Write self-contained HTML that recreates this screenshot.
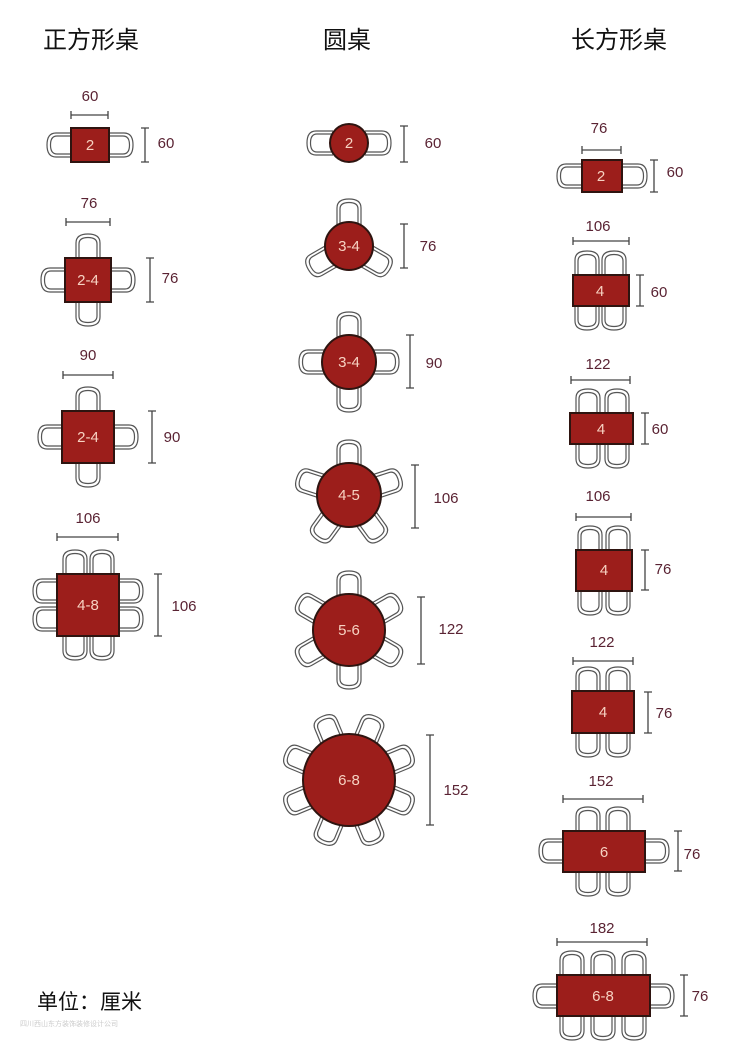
<!DOCTYPE html>
<html><head><meta charset="utf-8"><style>
html,body{margin:0;padding:0;background:#fff;}
svg{display:block;}
.h{font-size:24px;fill:#111;font-family:"Liberation Sans","Noto Sans CJK SC",sans-serif;}
.d{font-size:15px;fill:#5a2333;font-family:"Liberation Sans","Noto Sans CJK SC",sans-serif;text-anchor:middle;}
.n{font-size:15px;fill:#f7d2c2;font-family:"Liberation Sans",sans-serif;text-anchor:middle;}
.tb{fill:#9c1e1b;stroke:#2e1410;stroke-width:2;}
.dl{stroke:#444;stroke-width:1.3;fill:none;}
</style></head><body>
<svg width="752" height="1049" viewBox="0 0 752 1049" xmlns="http://www.w3.org/2000/svg">
<defs>
<g id="c">
<path d="M-12 12 L-12 -5 Q-12 -14 0 -14 Q12 -14 12 -5 L12 12 L9 12 L9 -4 Q9 -10.5 0 -10.5 Q-9 -10.5 -9 -4 L-9 12 Z" fill="#fff" stroke="none"/>
<path d="M-12 12 L-12 -5 Q-12 -14 0 -14 Q12 -14 12 -5 L12 12" fill="none" stroke="#555" stroke-width="1.2"/>
<path d="M-9 12 L-9 -4 Q-9 -10.5 0 -10.5 Q9 -10.5 9 -4 L9 12" fill="none" stroke="#555" stroke-width="1.2"/>
</g>
</defs>

<text class="h" x="43" y="48">正方形桌</text>
<text class="h" x="323" y="48">圆桌</text>
<text class="h" x="571" y="48">长方形桌</text>

<!-- SQUARE -->
<use href="#c" transform="translate(61,145) rotate(-90)"/>
<use href="#c" transform="translate(119,145) rotate(90)"/>
<rect class="tb" x="71" y="128" width="38" height="34"/>
<text class="n" x="90" y="150">2</text>
<text class="d" x="90" y="101">60</text>
<path class="dl" d="M71 115H108M71 111V119M108 111V119"/>
<path class="dl" d="M145 128V162M141 128H149M141 162H149"/>
<text class="d" x="166" y="148">60</text>

<use href="#c" transform="translate(88,248)"/>
<use href="#c" transform="translate(88,312) rotate(180)"/>
<use href="#c" transform="translate(55,280) rotate(-90)"/>
<use href="#c" transform="translate(121,280) rotate(90)"/>
<rect class="tb" x="65" y="258" width="46" height="44"/>
<text class="n" x="88" y="285">2-4</text>
<text class="d" x="89" y="208">76</text>
<path class="dl" d="M66 222H110M66 218V226M110 218V226"/>
<path class="dl" d="M150 258V302M146 258H154M146 302H154"/>
<text class="d" x="170" y="283">76</text>

<use href="#c" transform="translate(88,401)"/>
<use href="#c" transform="translate(88,473) rotate(180)"/>
<use href="#c" transform="translate(52,437) rotate(-90)"/>
<use href="#c" transform="translate(124,437) rotate(90)"/>
<rect class="tb" x="62" y="411" width="52" height="52"/>
<text class="n" x="88" y="442">2-4</text>
<text class="d" x="88" y="360">90</text>
<path class="dl" d="M63 375H113M63 371V379M113 371V379"/>
<path class="dl" d="M152 411V463M148 411H156M148 463H156"/>
<text class="d" x="172" y="442">90</text>

<use href="#c" transform="translate(75,564)"/>
<use href="#c" transform="translate(102,564)"/>
<use href="#c" transform="translate(75,646) rotate(180)"/>
<use href="#c" transform="translate(102,646) rotate(180)"/>
<use href="#c" transform="translate(47,591) rotate(-90)"/>
<use href="#c" transform="translate(47,619) rotate(-90)"/>
<use href="#c" transform="translate(129,591) rotate(90)"/>
<use href="#c" transform="translate(129,619) rotate(90)"/>
<rect class="tb" x="57" y="574" width="62" height="62"/>
<text class="n" x="88" y="610">4-8</text>
<text class="d" x="88" y="523">106</text>
<path class="dl" d="M57 537H118M57 533V541M118 533V541"/>
<path class="dl" d="M158 574V636M154 574H162M154 636H162"/>
<text class="d" x="184" y="611">106</text>

<!-- ROUND -->
<use href="#c" transform="translate(349,143) rotate(-90) translate(0,-28)"/>
<use href="#c" transform="translate(349,143) rotate(90) translate(0,-28)"/>
<circle class="tb" cx="349" cy="143" r="19"/>
<text class="n" x="349" y="148">2</text>
<path class="dl" d="M404 126V162M400 126H408M400 162H408"/>
<text class="d" x="433" y="148">60</text>

<use href="#c" transform="translate(349,246) rotate(0) translate(0,-33)"/>
<use href="#c" transform="translate(349,246) rotate(120) translate(0,-33)"/>
<use href="#c" transform="translate(349,246) rotate(240) translate(0,-33)"/>
<circle class="tb" cx="349" cy="246" r="24"/>
<text class="n" x="349" y="251">3-4</text>
<path class="dl" d="M404 224V268M400 224H408M400 268H408"/>
<text class="d" x="428" y="251">76</text>

<use href="#c" transform="translate(349,362) rotate(0) translate(0,-36)"/>
<use href="#c" transform="translate(349,362) rotate(90) translate(0,-36)"/>
<use href="#c" transform="translate(349,362) rotate(180) translate(0,-36)"/>
<use href="#c" transform="translate(349,362) rotate(270) translate(0,-36)"/>
<circle class="tb" cx="349" cy="362" r="27"/>
<text class="n" x="349" y="367">3-4</text>
<path class="dl" d="M410 335V388M406 335H414M406 388H414"/>
<text class="d" x="434" y="368">90</text>

<use href="#c" transform="translate(349,495) rotate(0) translate(0,-41)"/>
<use href="#c" transform="translate(349,495) rotate(72) translate(0,-41)"/>
<use href="#c" transform="translate(349,495) rotate(144) translate(0,-41)"/>
<use href="#c" transform="translate(349,495) rotate(216) translate(0,-41)"/>
<use href="#c" transform="translate(349,495) rotate(288) translate(0,-41)"/>
<circle class="tb" cx="349" cy="495" r="32"/>
<text class="n" x="349" y="500">4-5</text>
<path class="dl" d="M415 465V528M411 465H419M411 528H419"/>
<text class="d" x="446" y="503">106</text>

<use href="#c" transform="translate(349,630) rotate(0) translate(0,-45)"/>
<use href="#c" transform="translate(349,630) rotate(60) translate(0,-45)"/>
<use href="#c" transform="translate(349,630) rotate(120) translate(0,-45)"/>
<use href="#c" transform="translate(349,630) rotate(180) translate(0,-45)"/>
<use href="#c" transform="translate(349,630) rotate(240) translate(0,-45)"/>
<use href="#c" transform="translate(349,630) rotate(300) translate(0,-45)"/>
<circle class="tb" cx="349" cy="630" r="36"/>
<text class="n" x="349" y="635">5-6</text>
<path class="dl" d="M421 597V664M417 597H425M417 664H425"/>
<text class="d" x="451" y="634">122</text>

<use href="#c" transform="translate(349,780) rotate(22.5) translate(0,-55)"/>
<use href="#c" transform="translate(349,780) rotate(67.5) translate(0,-55)"/>
<use href="#c" transform="translate(349,780) rotate(112.5) translate(0,-55)"/>
<use href="#c" transform="translate(349,780) rotate(157.5) translate(0,-55)"/>
<use href="#c" transform="translate(349,780) rotate(202.5) translate(0,-55)"/>
<use href="#c" transform="translate(349,780) rotate(247.5) translate(0,-55)"/>
<use href="#c" transform="translate(349,780) rotate(292.5) translate(0,-55)"/>
<use href="#c" transform="translate(349,780) rotate(337.5) translate(0,-55)"/>
<circle class="tb" cx="349" cy="780" r="46"/>
<text class="n" x="349" y="785">6-8</text>
<path class="dl" d="M430 735V825M426 735H434M426 825H434"/>
<text class="d" x="456" y="795">152</text>

<!-- RECT -->
<use href="#c" transform="translate(571,176) rotate(-90)"/>
<use href="#c" transform="translate(633,176) rotate(90)"/>
<rect class="tb" x="582" y="160" width="40" height="32"/>
<text class="n" x="601" y="181">2</text>
<text class="d" x="599" y="133">76</text>
<path class="dl" d="M582 150H621M582 146V154M621 146V154"/>
<path class="dl" d="M654 160V192M650 160H658M650 192H658"/>
<text class="d" x="675" y="177">60</text>

<use href="#c" transform="translate(587,265)"/>
<use href="#c" transform="translate(614,265)"/>
<use href="#c" transform="translate(587,316) rotate(180)"/>
<use href="#c" transform="translate(614,316) rotate(180)"/>
<rect class="tb" x="573" y="275" width="56" height="31"/>
<text class="n" x="600" y="296">4</text>
<text class="d" x="598" y="231">106</text>
<path class="dl" d="M573 241H629M573 237V245M629 237V245"/>
<path class="dl" d="M640 275V306M636 275H644M636 306H644"/>
<text class="d" x="659" y="297">60</text>

<use href="#c" transform="translate(588,403)"/>
<use href="#c" transform="translate(617,403)"/>
<use href="#c" transform="translate(588,454) rotate(180)"/>
<use href="#c" transform="translate(617,454) rotate(180)"/>
<rect class="tb" x="570" y="413" width="63" height="31"/>
<text class="n" x="601" y="434">4</text>
<text class="d" x="598" y="369">122</text>
<path class="dl" d="M571 380H630M571 376V384M630 376V384"/>
<path class="dl" d="M645 413V444M641 413H649M641 444H649"/>
<text class="d" x="660" y="434">60</text>

<use href="#c" transform="translate(590,540)"/>
<use href="#c" transform="translate(618,540)"/>
<use href="#c" transform="translate(590,601) rotate(180)"/>
<use href="#c" transform="translate(618,601) rotate(180)"/>
<rect class="tb" x="576" y="550" width="56" height="41"/>
<text class="n" x="604" y="575">4</text>
<text class="d" x="598" y="501">106</text>
<path class="dl" d="M576 517H631M576 513V521M631 513V521"/>
<path class="dl" d="M645 550V590M641 550H649M641 590H649"/>
<text class="d" x="663" y="574">76</text>

<use href="#c" transform="translate(588,681)"/>
<use href="#c" transform="translate(618,681)"/>
<use href="#c" transform="translate(588,743) rotate(180)"/>
<use href="#c" transform="translate(618,743) rotate(180)"/>
<rect class="tb" x="572" y="691" width="62" height="42"/>
<text class="n" x="603" y="717">4</text>
<text class="d" x="602" y="647">122</text>
<path class="dl" d="M573 661H633M573 657V665M633 657V665"/>
<path class="dl" d="M648 692V733M644 692H652M644 733H652"/>
<text class="d" x="664" y="718">76</text>

<use href="#c" transform="translate(588,821)"/>
<use href="#c" transform="translate(618,821)"/>
<use href="#c" transform="translate(588,882) rotate(180)"/>
<use href="#c" transform="translate(618,882) rotate(180)"/>
<use href="#c" transform="translate(553,851) rotate(-90)"/>
<use href="#c" transform="translate(655,851) rotate(90)"/>
<rect class="tb" x="563" y="831" width="82" height="41"/>
<text class="n" x="604" y="857">6</text>
<text class="d" x="601" y="786">152</text>
<path class="dl" d="M563 799H643M563 795V803M643 795V803"/>
<path class="dl" d="M678 831V871M674 831H682M674 871H682"/>
<text class="d" x="692" y="859">76</text>

<use href="#c" transform="translate(572,965)"/>
<use href="#c" transform="translate(603,965)"/>
<use href="#c" transform="translate(634,965)"/>
<use href="#c" transform="translate(572,1026) rotate(180)"/>
<use href="#c" transform="translate(603,1026) rotate(180)"/>
<use href="#c" transform="translate(634,1026) rotate(180)"/>
<use href="#c" transform="translate(547,996) rotate(-90)"/>
<use href="#c" transform="translate(660,996) rotate(90)"/>
<rect class="tb" x="557" y="975" width="93" height="41"/>
<text class="n" x="603" y="1001">6-8</text>
<text class="d" x="602" y="933">182</text>
<path class="dl" d="M557 942H647M557 938V946M647 938V946"/>
<path class="dl" d="M684 975V1016M680 975H688M680 1016H688"/>
<text class="d" x="700" y="1001">76</text>

<text class="h" x="37" y="1009" style="font-size:21px">单位：厘米</text>
<text x="20" y="1026" style="font-size:7px;fill:#ccc;font-family:'Noto Sans CJK SC',sans-serif">四川西山东方装饰装修设计公司</text>
</svg>
</body></html>
